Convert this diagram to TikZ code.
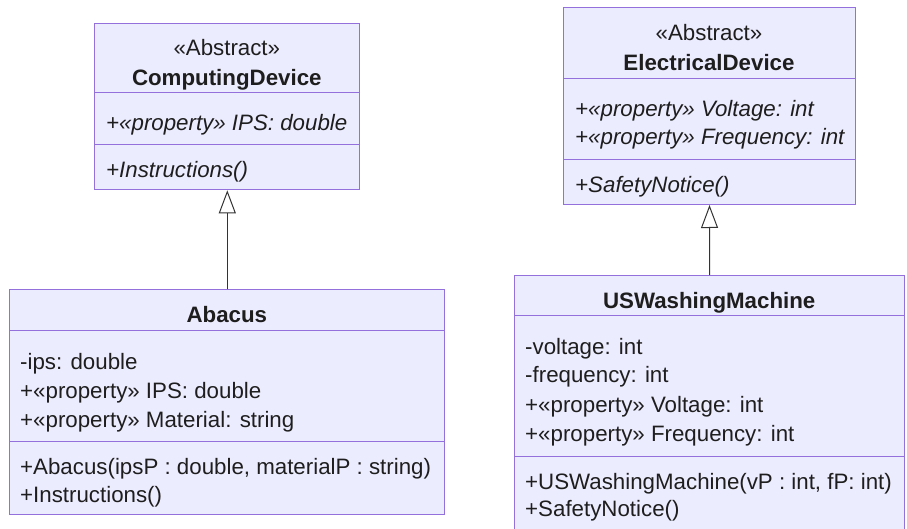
\documentclass[tikz,border=0pt]{standalone}
\usepackage{fontspec}
\setmainfont{Liberation Sans}
\usetikzlibrary{arrows.meta}
\definecolor{classfill}{HTML}{ECECFF}
\definecolor{classline}{HTML}{9370DB}
\definecolor{textcol}{HTML}{1E1E1E}
\definecolor{relcol}{HTML}{333333}
\begin{document}
\begin{tikzpicture}[x=1pt,y=-1pt,
  classbox/.style={draw=classline, fill=classfill, line width=1pt,
    rectangle, anchor=north west, inner sep=0pt},
  divider/.style={draw=classline, line width=1pt},
  txt/.style={inner sep=0pt, anchor=base west, text=textcol,
    font=\fontsize{22.3}{26}\selectfont},
  title/.style={txt, anchor=base},
  inherit/.style={draw=relcol, line width=1pt,
    -{Triangle[open, length=23pt, width=17pt, fill=white]}}]
\useasboundingbox (0,0) rectangle (907,529);
\begin{scope}
\clip (0,0) rectangle (907,529);

% ComputingDevice
\node[classbox, minimum width=265pt, minimum height=166.6pt] (cd) at (94.3,22.7) {};
\draw[divider] (cd.west |- 0,92.7) -- (cd.east |- 0,92.7);
\draw[divider] (cd.west |- 0,144.7) -- (cd.east |- 0,144.7);
\node[title] (cd-st) at (226.8,55.3) {«Abstract»};
\node[title] (cd-nm) at (226.8,85.5) {\bfseries ComputingDevice};
\node[txt] (cd-a1) at (106,130.5) {\itshape +«property» IPS: double};
\node[txt] (cd-m1) at (106,178) {\itshape +Instructions()};

% ElectricalDevice
\node[classbox, minimum width=291.4pt, minimum height=196.7pt] (ed) at (563.3,7.3) {};
\draw[divider] (ed.west |- 0,78.7) -- (ed.east |- 0,78.7);
\draw[divider] (ed.west |- 0,159.3) -- (ed.east |- 0,159.3);
\node[title] (ed-st) at (709,41) {«Abstract»};
\node[title] (ed-nm) at (709,70.5) {\bfseries ElectricalDevice};
\node[txt] (ed-a1) at (575,117) {\itshape +«property» Voltage: int};
\node[txt] (ed-a2) at (575,145) {\itshape +«property» Frequency: int};
\node[txt] (ed-m1) at (575,192.5) {\itshape +SafetyNotice()};

% Abacus
\node[classbox, minimum width=435pt, minimum height=224.2pt] (ab) at (9.3,289.3) {};
\draw[divider] (ab.west |- 0,330) -- (ab.east |- 0,330);
\draw[divider] (ab.west |- 0,441) -- (ab.east |- 0,441);
\node[title] (ab-nm) at (226.8,322.7) {\bfseries Abacus};
\node[txt] (ab-a1) at (20,369) {-ips: double};
\node[txt] (ab-a2) at (20,398.3) {+«property» IPS: double};
\node[txt] (ab-a3) at (20,427.3) {+«property» Material: string};
\node[txt] (ab-m1) at (20,474.3) {+Abacus(ipsP : double, materialP : string)};
\node[txt] (ab-m2) at (20,502.7) {+Instructions()};

% USWashingMachine
\node[classbox, minimum width=390.3pt, minimum height=270pt] (us) at (514,275) {};
\draw[divider] (us.west |- 0,315.3) -- (us.east |- 0,315.3);
\draw[divider] (us.west |- 0,456) -- (us.east |- 0,456);
\node[title] (us-nm) at (709.2,308.7) {\bfseries USWashingMachine};
\node[txt] (us-a1) at (525,354.3) {-voltage: int};
\node[txt] (us-a2) at (525,382.7) {-frequency: int};
\node[txt] (us-a3) at (525,412.3) {+«property» Voltage: int};
\node[txt] (us-a4) at (525,441) {+«property» Frequency: int};
\node[txt] (us-m1) at (525,489) {+USWashingMachine(vP : int, fP: int)};
\node[txt] (us-m2) at (525,516.5) {+SafetyNotice()};

% Inheritance
\draw[inherit] (ab.north) -- (cd.south);
\draw[inherit] (us.north) -- (ed.south);
\end{scope}
\end{tikzpicture}
\end{document}
